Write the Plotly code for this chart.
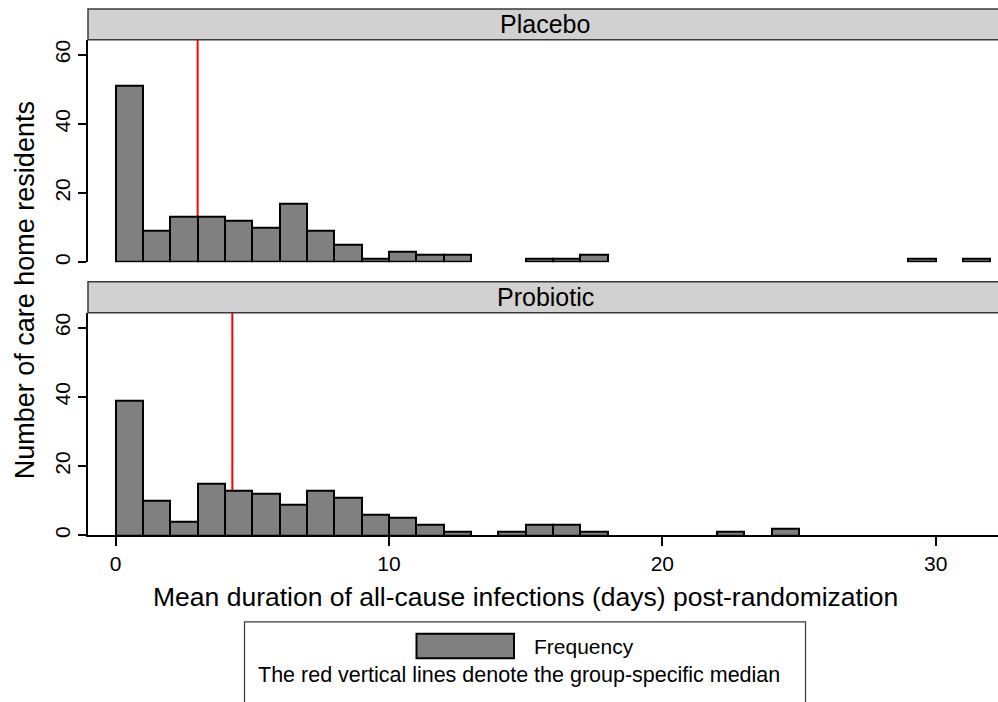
import plotly.graph_objects as go

# ---- data ----
bin_starts = list(range(0, 32))
placebo_counts = [51, 9, 13, 13, 12, 10, 17, 9, 5, 1, 3, 2, 2, 0, 0, 1,
                  1, 2, 0, 0, 0, 0, 0, 0, 0, 0, 0, 0, 0, 1, 0, 1]
probiotic_counts = [39, 10, 4, 15, 13, 12, 9, 13, 11, 6, 5, 3, 1, 0, 1, 3,
                    3, 1, 0, 0, 0, 0, 1, 0, 2, 0, 0, 0, 0, 0, 0, 0]
placebo_median = 3.0
probiotic_median = 4.27
groups = ["Placebo", "Probiotic"]
x_ticks = [0, 10, 20, 30]
y_ticks = [0, 20, 40, 60]

W, H = 998, 702
ML = 88
MR = 0
FONT = "Liberation Sans, Arial, Helvetica, sans-serif"


def px_x(p):
    return (p - ML) / (W - ML - MR)


def px_y(p):
    return 1 - p / H


def nonzero(counts):
    xs, ys = [], []
    for s, c in zip(bin_starts, counts):
        if c > 0:
            xs.append(s + 0.5)
            ys.append(c)
    return xs, ys


fig = go.Figure()
for i, counts in enumerate([placebo_counts, probiotic_counts]):
    xs, ys = nonzero(counts)
    fig.add_trace(go.Bar(
        x=xs, y=ys, width=1,
        marker=dict(color="#808080", line=dict(color="#000000", width=2)),
        xaxis="x" if i == 0 else "x2", yaxis="y" if i == 0 else "y2",
        showlegend=False, hoverinfo="x+y"))

xrange = [-1.01, 32.28]
yrange = [0, 64.3]
top_dom = [px_y(263.3), px_y(40)]
bot_dom = [px_y(537.7), px_y(314)]

yax = dict(range=yrange, showline=True, linecolor="#000000", linewidth=1.5,
           ticks="outside", ticklen=8, tickwidth=1.5, tickcolor="#000000",
           tickvals=y_ticks, tickangle=-90, showgrid=False, zeroline=False,
           tickfont=dict(family=FONT, size=21, color="#000000"))

fig.update_layout(
    width=W, height=H,
    margin=dict(l=ML, r=MR, t=0, b=0),
    paper_bgcolor="white", plot_bgcolor="white",
    bargap=0, showlegend=False,
    font=dict(family=FONT, color="#000000"),
    xaxis=dict(domain=[0, 1], range=xrange, anchor="y", showline=False,
               showticklabels=False, ticks="", showgrid=False, zeroline=False),
    yaxis=dict(domain=top_dom, anchor="x", **yax),
    xaxis2=dict(domain=[0, 1], range=xrange, anchor="y2", showline=True,
                linecolor="#000000", linewidth=1.5, ticks="outside", ticklen=9,
                tickwidth=1.5, tickcolor="#000000", tickvals=x_ticks,
                showgrid=False, zeroline=False,
                tickfont=dict(family=FONT, size=21, color="#000000")),
    yaxis2=dict(domain=bot_dom, anchor="x2", **yax),
)

shapes = []
# median lines
for xr, yr, med in [("x", "y domain", placebo_median), ("x2", "y2 domain", probiotic_median)]:
    shapes.append(dict(type="line", xref=xr, yref=yr, x0=med, x1=med, y0=0, y1=1,
                       line=dict(color="#FF0000", width=2), layer="below"))
# strips
strip_px = [(9, 40), (283, 314)]
for (t, b) in strip_px:
    shapes.append(dict(type="rect", xref="paper", yref="paper",
                       x0=0, x1=1.02, y0=px_y(b), y1=px_y(t),
                       fillcolor="#D1D1D1", line=dict(color="#3A3A3A", width=1.5),
                       layer="above"))
# legend box
shapes.append(dict(type="rect", xref="paper", yref="paper",
                   x0=px_x(244.5), x1=px_x(805.5), y0=px_y(720), y1=px_y(624.5),
                   fillcolor="rgba(0,0,0,0)", line=dict(color="#3A3A3A", width=1.2)))
shapes.append(dict(type="rect", xref="paper", yref="paper",
                   x0=px_x(416.5), x1=px_x(514), y0=px_y(661), y1=px_y(636.5),
                   fillcolor="#808080", line=dict(color="#000000", width=2)))
fig.update_layout(shapes=shapes)

ann = []
for (t, b), g in zip(strip_px, groups):
    ann.append(dict(text=g, xref="paper", yref="paper", x=px_x(545), y=px_y((t + b) / 2),
                    xanchor="center", yanchor="middle", showarrow=False,
                    font=dict(family=FONT, size=25, color="#000000")))
ann.append(dict(text="Number of care home residents", xref="paper", yref="paper",
                x=px_x(25), y=px_y(291.5), textangle=-90, xanchor="center",
                yanchor="middle", showarrow=False,
                font=dict(family=FONT, size=27, color="#000000")))
ann.append(dict(text="Mean duration of all-cause infections (days) post-randomization",
                xref="paper", yref="paper", x=px_x(525), y=px_y(600),
                xanchor="center", yanchor="middle", showarrow=False,
                font=dict(family=FONT, size=26.5, color="#000000")))
ann.append(dict(text="Frequency", xref="paper", yref="paper", x=px_x(532), y=px_y(649),
                xanchor="left", yanchor="middle", showarrow=False,
                font=dict(family=FONT, size=21, color="#000000")))
ann.append(dict(text="The red vertical lines denote the group-specific median",
                xref="paper", yref="paper", x=px_x(518.5), y=px_y(678),
                xanchor="center", yanchor="middle", showarrow=False,
                font=dict(family=FONT, size=21.5, color="#000000")))
fig.update_layout(annotations=ann)

fig.write_html("out.html", config={"displayModeBar": False},
               post_script="document.body.style.margin='0';document.body.style.overflow='hidden';")
